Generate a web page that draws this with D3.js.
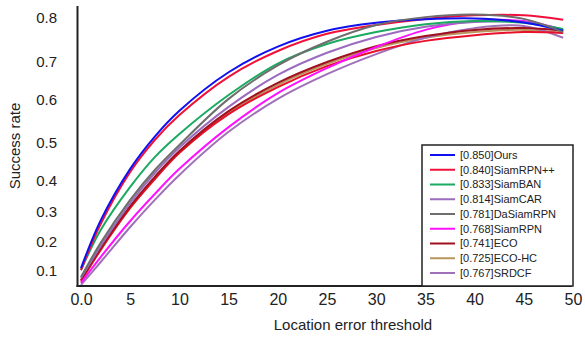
<!DOCTYPE html>
<html>
<head>
<meta charset="utf-8">
<script src="https://cdn.jsdelivr.net/npm/d3@7"></script>
<style>
  html, body { margin: 0; padding: 0; background: #fff; }
  svg { display: block; font-family: "Liberation Sans", Arial, sans-serif; }
</style>
</head>
<body>
<svg id="chart" width="585" height="339"></svg>
<script>
// ---- data ----
const thresholds = [0, 2, 5, 7.5, 10, 15, 20, 25, 30, 35, 40, 45, 49];
const ours      = [0.110, 0.272, 0.432, 0.515, 0.575, 0.673, 0.735, 0.771, 0.789, 0.797, 0.799, 0.790, 0.771];
const siamrpnpp = [0.103, 0.260, 0.424, 0.507, 0.565, 0.661, 0.725, 0.764, 0.784, 0.798, 0.806, 0.806, 0.796];
const siamban   = [0.103, 0.240, 0.381, 0.463, 0.521, 0.613, 0.696, 0.741, 0.768, 0.786, 0.793, 0.789, 0.775];
const siamcar   = [0.076, 0.186, 0.329, 0.421, 0.488, 0.584, 0.666, 0.721, 0.757, 0.780, 0.791, 0.791, 0.773];
const dasiamrpn = [0.079, 0.197, 0.339, 0.429, 0.495, 0.603, 0.691, 0.746, 0.784, 0.802, 0.808, 0.798, 0.768];
const siamrpn   = [0.059, 0.148, 0.270, 0.358, 0.432, 0.537, 0.618, 0.684, 0.734, 0.773, 0.793, 0.793, 0.773];
const eco       = [0.069, 0.179, 0.319, 0.411, 0.479, 0.574, 0.645, 0.700, 0.736, 0.759, 0.773, 0.777, 0.771];
const ecohc     = [0.062, 0.173, 0.313, 0.405, 0.474, 0.570, 0.640, 0.695, 0.732, 0.755, 0.768, 0.773, 0.766];
const srdcf     = [0.052, 0.131, 0.250, 0.339, 0.416, 0.526, 0.603, 0.668, 0.718, 0.755, 0.777, 0.782, 0.755];
const extraRed  = [0.066, 0.173, 0.313, 0.405, 0.474, 0.567, 0.634, 0.689, 0.725, 0.748, 0.761, 0.768, 0.766];

const legendLabels = ["[0.850]Ours", "[0.840]SiamRPN++", "[0.833]SiamBAN", "[0.814]SiamCAR",
  "[0.781]DaSiamRPN", "[0.768]SiamRPN", "[0.741]ECO", "[0.725]ECO-HC", "[0.767]SRDCF"];
const legendColors = ["#1010f0", "#f0103a", "#1aaa60", "#9b6bbf", "#6e6e6e", "#ff10ff", "#a0101e", "#b8955a", "#a070b8"];

const xTicks = [0, 5, 10, 15, 20, 25, 30, 35, 40, 45, 50];
const xTickLabels = ["0.0", "5", "10", "15", "20", "25", "30", "35", "40", "45", "50"];
const yTicks = [0.1, 0.2, 0.3, 0.4, 0.5, 0.6, 0.7, 0.8];
const yTickLabels = ["0.1", "0.2", "0.3", "0.4", "0.5", "0.6", "0.7", "0.8"];

// ---- drawing ----
const svg = d3.select("#chart");
const x = d3.scaleLinear().domain([0, 50]).range([81, 573]);
// the reference's y axis is unevenly spaced; reproduce with a piecewise scale
const y = d3.scaleLinear()
  .domain([0, 0.1, 0.2, 0.3, 0.4, 0.5, 0.6, 0.7, 0.8])
  .range([300, 271, 242, 212, 181, 143, 100, 62, 18]);

const axisY = 286, axisX = 77.5;

const line = d3.line()
  .x((d, i) => x(thresholds[i]))
  .y(d => y(d))
  .curve(d3.curveCatmullRom.alpha(0.5));

// draw order: back to front
const drawOrder = [
  { v: ecohc, c: legendColors[7] },
  { v: srdcf, c: legendColors[8] },
  { v: extraRed, c: "#e8102a" },
  { v: eco, c: legendColors[6] },
  { v: siamrpn, c: legendColors[5] },
  { v: siamcar, c: legendColors[3] },
  { v: siamban, c: legendColors[2] },
  { v: siamrpnpp, c: legendColors[1] },
  { v: ours, c: legendColors[0] },
  { v: dasiamrpn, c: legendColors[4] }
];
svg.append("g").selectAll("path").data(drawOrder).join("path")
  .attr("d", d => line(d.v))
  .attr("fill", "none")
  .attr("stroke", d => d.c)
  .attr("stroke-width", 2);

// x axis
const gx = svg.append("g").attr("transform", `translate(0,${axisY})`)
  .call(d3.axisBottom(x).tickValues(xTicks).tickSize(0).tickPadding(8)
    .tickFormat((d, i) => xTickLabels[i]));
gx.select(".domain").remove();
gx.selectAll("text").attr("font-size", 16).attr("fill", "#222")
  .attr("font-family", "Liberation Sans, Arial, sans-serif");

// y axis
const gy = svg.append("g").attr("transform", `translate(57,0)`)
  .call(d3.axisLeft(y).tickValues(yTicks).tickSize(0).tickPadding(0)
    .tickFormat((d, i) => yTickLabels[i]));
gy.select(".domain").remove();
gy.selectAll("text").attr("font-size", 15).attr("fill", "#222")
  .attr("font-family", "Liberation Sans, Arial, sans-serif");

// axis lines
svg.append("line").attr("x1", axisX).attr("x2", axisX).attr("y1", 6).attr("y2", axisY + 1)
  .attr("stroke", "#222").attr("stroke-width", 2);
svg.append("line").attr("x1", axisX - 1).attr("x2", 572).attr("y1", axisY).attr("y2", axisY)
  .attr("stroke", "#222").attr("stroke-width", 2);

// axis titles
svg.append("text").attr("x", 353).attr("y", 330).attr("text-anchor", "middle")
  .attr("font-size", 15).attr("fill", "#222").text("Location error threshold");
svg.append("text").attr("transform", "translate(20,146) rotate(-90)")
  .attr("text-anchor", "middle").attr("font-size", 15).attr("fill", "#222").text("Success rate");

// legend
const lg = svg.append("g");
lg.append("rect").attr("x", 422).attr("y", 145).attr("width", 151).attr("height", 141)
  .attr("fill", "#fff").attr("stroke", "#222").attr("stroke-width", 1.5);
const rowStep = (273 - 155) / 8;
const rows = lg.selectAll("g.row").data(legendLabels).join("g")
  .attr("transform", (d, i) => `translate(0,${155 + i * rowStep})`);
rows.append("line").attr("x1", 430).attr("x2", 455).attr("y1", 0).attr("y2", 0)
  .attr("stroke", (d, i) => legendColors[i]).attr("stroke-width", 2);
rows.append("text").attr("x", 460).attr("y", 0).attr("dy", "0.35em")
  .attr("font-size", 11).attr("fill", "#222").text(d => d);
</script>
</body>
</html>
